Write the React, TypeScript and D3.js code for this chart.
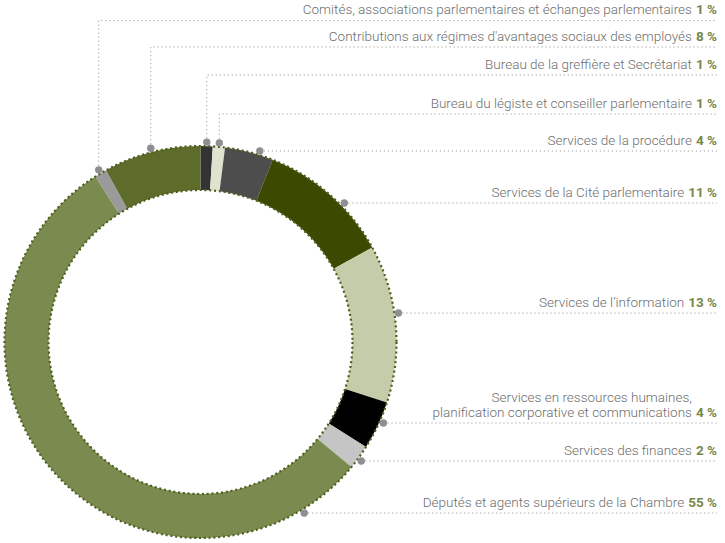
import { useEffect, useRef } from "react";
import * as d3 from "d3";

// slices, clockwise from 12 o'clock
const categories = [
  "Bureau de la greffière et Secrétariat",
  "Bureau du légiste et conseiller parlementaire",
  "Services de la procédure",
  "Services de la Cité parlementaire",
  "Services de l’information",
  "Services en ressources humaines,\nplanification corporative et communications",
  "Services des finances",
  "Députés et agents supérieurs de la Chambre",
  "Comités, associations parlementaires et échanges parlementaires",
  "Contributions aux régimes d'avantages sociaux des employés",
];
const values = [1, 1, 4, 11, 13, 4, 2, 55, 1, 8];
const colors = [
  "#333333", "#dfe2cf", "#4d4d4d", "#3b4a00", "#c5cca9",
  "#000000", "#c4c5c4", "#7b8b4f", "#9a9a9a", "#5d6b2b",
];

// label rows, top to bottom: slice index, leader y, leader kind
const labelRows: { i: number; y: number; elbow: boolean }[] = [
  { i: 8, y: 20.5, elbow: true },
  { i: 9, y: 47, elbow: true },
  { i: 0, y: 75, elbow: true },
  { i: 1, y: 114, elbow: true },
  { i: 2, y: 151, elbow: false },
  { i: 3, y: 203, elbow: false },
  { i: 4, y: 313, elbow: false },
  { i: 5, y: 423, elbow: false },
  { i: 6, y: 461, elbow: false },
  { i: 7, y: 513, elbow: false },
];

const W = 725;
const H = 543;
const cx = 200.5;
const cy = 342;
const rOuter = 196;
const rInner = 152;
const rDot = 200;
const xRight = 717;
const font = "Roboto, 'Liberation Sans', Arial, sans-serif";
const textColor = "#6e6e6e";
const pctColor = "#76874a";

export default function App() {
  const ref = useRef<SVGSVGElement>(null);

  useEffect(() => {
    const svg = d3.select(ref.current);
    svg.selectAll("*").remove();

    const pie = d3.pie<number>().sort(null).value((d) => d);
    const arcs = pie(values);
    const arc = d3.arc<d3.PieArcDatum<number>>().innerRadius(rInner).outerRadius(rOuter);

    const g = svg.append("g").attr("transform", `translate(${cx},${cy})`);
    g.selectAll("path")
      .data(arcs)
      .enter()
      .append("path")
      .attr("d", arc)
      .attr("fill", (d, i) => colors[i]);

    // dotted outlines
    [rOuter, rInner].forEach((r) => {
      g.append("circle")
        .attr("r", r)
        .attr("fill", "none")
        .attr("stroke", "#4d5e1c")
        .attr("stroke-width", 2.2)
        .attr("stroke-dasharray", "2 2.8");
    });

    const leaders = svg.append("g");
    const labels = svg.append("g").style("font-family", font).style("font-size", "13.5px");

    labelRows.forEach((row) => {
      const a = arcs[row.i];
      let px: number, py: number;
      if (row.elbow) {
        const mid = (a.startAngle + a.endAngle) / 2;
        px = cx + rDot * Math.sin(mid);
        py = cy - rDot * Math.cos(mid);
        leaders.append("path")
          .attr("d", `M${px},${py}V${row.y}H${xRight}`)
          .attr("fill", "none")
          .attr("stroke", "#a0a0a0")
          .attr("stroke-width", 1)
          .attr("stroke-dasharray", "1.2 2.8");
      } else {
        const dy = row.y - cy;
        px = cx + Math.sqrt(rDot * rDot - dy * dy);
        py = row.y;
        leaders.append("line")
          .attr("x1", px).attr("x2", xRight)
          .attr("y1", py).attr("y2", py)
          .attr("stroke", "#a0a0a0")
          .attr("stroke-width", 1)
          .attr("stroke-dasharray", "1.2 2.8");
      }
      leaders.append("circle")
        .attr("cx", px).attr("cy", py).attr("r", 3.7)
        .attr("fill", "#8e8e93");

      const pct = labels.append("text")
        .attr("x", xRight).attr("y", row.y - 6.5)
        .attr("text-anchor", "end")
        .attr("fill", pctColor)
        .attr("font-weight", 700)
        .text(`${values[row.i]} %`);
      const pw = (pct.node() as SVGTextElement).getComputedTextLength();
      const lines = categories[row.i].split("\n");
      lines.forEach((line, k) => {
        labels.append("text")
          .attr("x", xRight - pw - 4)
          .attr("y", row.y - 6.5 - (lines.length - 1 - k) * 15)
          .attr("text-anchor", "end")
          .attr("fill", textColor)
          .attr("font-weight", 300)
          .text(line);
      });
    });
  }, []);

  return (
    <svg
      ref={ref}
      width={W}
      height={H}
      style={{ position: "absolute", left: 0, top: 0, background: "#fff" }}
    />
  );
}
